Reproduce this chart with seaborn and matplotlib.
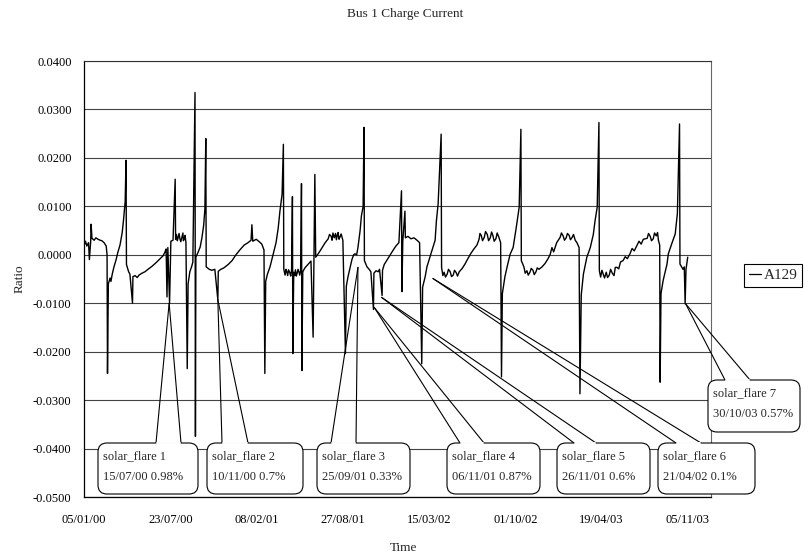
import numpy as np
import pandas as pd
import matplotlib
matplotlib.use("Agg")
import matplotlib.pyplot as plt
import seaborn as sns
from matplotlib.patches import FancyBboxPatch
from matplotlib.lines import Line2D
import matplotlib.dates as mdates

# ---------------- data ----------------
start_date = "2000-01-05"
day_offsets = [
    0, 3, 6, 10, 12, 15, 16, 18, 23, 27, 32, 37, 41, 46, 51, 53,
    54, 56, 60, 62, 65, 69, 74, 78, 83, 88, 91, 95, 97, 98,
    103, 106, 112, 113, 118, 123, 127, 134, 141, 148, 157, 167, 176, 183, 187, 190,
    192, 194, 198, 201, 206, 211, 212, 214, 216, 218, 220, 222, 224, 227, 229, 230, 232, 234, 236,
    239, 241, 245, 249, 252, 257, 258, 259, 264, 269, 273, 277, 280, 282, 283,
    290, 296, 303, 310, 311, 317, 324, 334, 343, 352, 361, 371, 380, 387, 389, 391, 399, 406, 412, 417,
    419, 421, 425, 431, 438, 445, 450, 454, 459, 462, 463,
    466, 468, 470, 472, 474, 477, 479, 481, 483, 484, 486, 488, 490, 492, 494, 496, 498, 500, 502,
    504, 505, 507, 512, 519, 526, 531, 535, 537, 545, 552, 559,
    566, 569, 573, 575, 577, 580, 583, 585, 587, 589, 591, 593, 596, 600,
    606, 608, 612, 617, 621, 625, 628, 632, 635, 640, 643, 647, 649, 650,
    656, 661, 665, 671, 672, 677, 682, 685, 691, 692, 696, 703, 710, 717, 723, 730,
    736, 737, 739, 744, 745, 751, 758, 765, 772, 778,
    783, 785, 791, 795, 802, 809, 814, 817, 821, 828, 829,
    832, 835, 838, 842, 845, 849, 852, 856, 859, 863, 866, 870, 877, 884, 890, 897, 904, 911,
    916, 918, 921, 924, 928, 931, 935, 938, 942, 945, 948, 951, 955, 958, 962, 966,
    968, 970, 976, 981, 988, 995, 1002, 1009, 1013, 1014,
    1020, 1023, 1027, 1030, 1034, 1037, 1041, 1044, 1048, 1051, 1055, 1062, 1069, 1076, 1081, 1085, 1089, 1096,
    1104, 1107, 1111, 1114, 1118, 1121, 1125, 1128, 1132, 1135, 1139, 1143, 1148,
    1150, 1153, 1158, 1166, 1174, 1181, 1185, 1190, 1194, 1195,
    1198, 1201, 1204, 1207, 1211, 1214, 1218, 1221, 1225, 1229, 1232, 1236, 1240, 1244, 1250, 1255, 1260, 1266,
    1271, 1276, 1282, 1287, 1292,
    1297, 1306, 1309, 1313, 1316, 1320, 1323, 1327, 1330, 1332, 1335,
    1336, 1338, 1343, 1352, 1355, 1363, 1371, 1376, 1381, 1382, 1389, 1392, 1394, 1396, 1400,
]
ratio_milli = [
    2.0, 2.8, 1.8, 2.5, -1.0, 2.8, 6.3, 3.4, 3.0, 3.5, 3.2, 3.0, 2.9, 2.5, 1.8, 0.0,
    -24.5, -6.0, -4.8, -5.5, -4.0, -2.5, -1.0, 0.5, 2.0, 4.5, 7.0, 11.0, 19.5, -2.0,
    -3.5, -4.0, -10.0, -4.5, -4.3, -4.7, -4.2, -3.8, -3.5, -3.0, -2.4, -1.6, -0.8, -0.2, 0.5, 1.2,
    -8.7, 1.5, -10.0, 2.8, 3.0, 15.6, 3.2, 4.2, 2.9, 3.6, 4.4, 3.3, 2.7, 3.8, 4.5, 2.9, 3.2, 4.0, 2.5,
    -23.5, -6.0, -3.5, -2.5, -1.5, 33.5, -37.5, -0.5, 0.5, 1.6, 3.5, 6.0, 9.5, 24.0, -2.5,
    -3.0, -3.2, -3.0, -9.3, -3.4, -3.0, -2.7, -2.0, -1.2, 0.0, 1.0, 2.0, 2.5, 3.0, 6.2, 2.8, 3.2, 2.7, 2.2, 1.0,
    -24.5, -5.5, -4.0, -2.5, 0.0, 2.5, 5.5, 9.0, 12.5, 22.8, -3.0,
    -4.2, -3.0, -3.5, -4.3, -3.1, -3.7, -4.4, -3.2, 12.0, -20.4, -3.6, -4.3, -3.1, -4.4, -3.8, -3.0, -3.5, -4.2, -3.3,
    14.7, -23.9, -3.5, -2.7, -2.0, -1.3, -17.0, 16.6, -0.5, 0.5, 1.5, 2.5,
    3.3, 4.2, 3.8, 3.0, 4.5, 3.5, 4.4, 3.1, 4.0, 4.6, 3.2, 3.6, 4.3, 3.0,
    -20.4, -6.5, -4.5, -2.5, -1.0, 0.0, 0.2, 0.0, 1.5, 5.0, 8.0, 10.0, 26.3, -1.2,
    -2.5, -3.0, -3.5, -11.3, -3.8, -3.3, -3.5, -3.0, -8.4, -3.2, -2.0, -1.0, 0.0, 1.0, 1.8, 2.5,
    13.2, -7.6, 2.8, 9.0, 3.5, 3.8, 3.3, 3.5, 3.0, 2.5,
    -22.5, -6.7, -4.5, -2.5, -0.5, 1.5, 3.0, 7.0, 10.5, 24.9, -2.6,
    -4.3, -3.6, -4.6, -4.0, -3.0, -3.5, -4.5, -4.2, -3.2, -3.7, -4.4, -3.5, -2.8, -1.8, -0.8, 0.3, 1.2, 2.0,
    3.2, 4.4, 4.0, 2.9, 3.6, 4.8, 4.2, 2.9, 3.5, 4.7, 4.0, 2.8, 3.3, 4.5, 3.6, 2.5,
    -25.2, -8.0, -4.5, -2.5, 0.1, 1.5, 5.5, 9.8, 25.9, -1.2,
    -2.5, -3.8, -3.3, -4.2, -3.6, -2.8, -3.2, -4.1, -3.5, -2.7, -3.0, -2.5, -1.8, -0.8, 0.1, 1.5, 0.6, 2.5,
    3.6, 4.5, 3.9, 3.0, 3.5, 4.4, 4.0, 3.1, 3.6, 4.2, 3.0, 2.5, 1.5,
    -28.7, -8.3, -4.0, -0.5, 1.5, 4.2, 7.0, 9.8, 27.3, -3.3,
    -4.6, -3.2, -4.0, -4.8, -3.6, -4.7, -4.2, -3.0, -3.8, -4.3, -2.6, -2.6, -2.9, -1.5, -1.2, -0.4, -0.8, 0.2,
    1.3, 0.8, 1.9, 2.8, 2.2,
    3.2, 3.4, 4.4, 3.8, 2.9, 3.3, 4.5, 3.9, 4.6, 3.0, 2.0,
    -26.3, -8.0, -5.3, -1.9, 0.2, 2.3, 4.3, 8.5, 27.0, -1.9, -3.0, -2.5, -10.1, -3.0, -0.5,
]
series_name = "A129"

xtick_labels = ["05/01/00", "23/07/00", "08/02/01", "27/08/01", "15/03/02", "01/10/02", "19/04/03", "05/11/03"]
ytick_values = [0.04, 0.03, 0.02, 0.01, 0.0, -0.01, -0.02, -0.03, -0.04, -0.05]
ytick_labels = ["0.0400", "0.0300", "0.0200", "0.0100", "0.0000", "-0.0100", "-0.0200", "-0.0300", "-0.0400", "-0.0500"]

flare_names = ["solar_flare 1", "solar_flare 2", "solar_flare 3", "solar_flare 4", "solar_flare 5", "solar_flare 6", "solar_flare 7"]
flare_dates = ["15/07/00", "10/11/00", "25/09/01", "06/11/01", "26/11/01", "21/04/02", "30/10/03"]
flare_pcts = ["0.98%", "0.7%", "0.33%", "0.87%", "0.6%", "0.1%", "0.57%"]
pointer_days = [197, 310, 635, 673, 690, 809, 1395]
pointer_values = [-0.0100, -0.0093, -0.0026, -0.0109, -0.0088, -0.0049, -0.0101]

assert len(day_offsets) == len(ratio_milli)

# ---------------- layout / style ----------------
W, H = 808, 557
sns.set_theme(style="white")
plt.rcParams["font.family"] = ["Liberation Serif", "DejaVu Serif"]

t0 = pd.Timestamp(start_date)
df = pd.DataFrame({
    "Time": t0 + pd.to_timedelta(day_offsets, unit="D"),
    "Ratio": np.array(ratio_milli) / 1000.0,
    "Series": series_name,
})

fig = plt.figure(figsize=(W / 100, H / 100), dpi=100)
fig.patch.set_facecolor("white")
ax = fig.add_axes([84 / W, 1 - 497 / H, (711 - 84) / W, (497 - 61) / H])
sns.lineplot(data=df, x="Time", y="Ratio", hue="Series", palette=["black"], linewidth=1.0,
             ax=ax, legend=False, zorder=3)

ax.set_xlim(mdates.date2num(t0 - pd.Timedelta(days=0.5)), mdates.date2num(t0 + pd.Timedelta(days=1454)))
ax.set_ylim(-0.05, 0.04)
ax.set_yticks(ytick_values)
ax.set_yticklabels(ytick_labels)
ax.set_xticks(mdates.date2num(pd.to_datetime(xtick_labels, format="%d/%m/%y")))
ax.set_xticklabels(xtick_labels)
ax.tick_params(axis="y", length=0, pad=9, labelsize=9, colors="black")
ax.tick_params(axis="x", length=0, pad=12.5, labelsize=9, colors="black")
ax.set_xlabel("")
ax.set_ylabel("")
ax.grid(axis="y", color="#444444", linewidth=0.8)
ax.grid(axis="x", visible=False)
ax.set_facecolor("white")
for side in ["left", "bottom"]:
    ax.spines[side].set_color("black")
    ax.spines[side].set_linewidth(0.9)
ax.spines["top"].set_color("#333333")
ax.spines["top"].set_linewidth(0.8)
ax.spines["top"].set_linestyle((0, (1, 1)))
ax.spines["right"].set_color("#666666")
ax.spines["right"].set_linewidth(0.8)
ax.spines["right"].set_linestyle((0, (1, 1)))

fig.text(405 / W, 1 - 14 / H, "Bus 1 Charge Current", ha="center", va="center", fontsize=9.5)
fig.text(403 / W, 1 - 548 / H, "Time", ha="center", va="center", fontsize=9.5)
fig.text(20 / W, 1 - 279 / H, "Ratio", ha="center", va="center", rotation=90, fontsize=9.5)

leg = ax.legend(handles=[Line2D([0], [0], color="black", lw=0.9)], labels=[series_name],
                loc="upper left", bbox_to_anchor=(744 / W, 1 - 264 / H), bbox_transform=fig.transFigure,
                fancybox=False, edgecolor="black", framealpha=1, borderpad=0.3, handlelength=0.8,
                handletextpad=0.2, fontsize=11, borderaxespad=0)
leg.get_frame().set_linewidth(0.8)

# ---------------- callouts ----------------
boxes = [(98, 198, 443, 494), (207, 303, 443, 494), (317, 410, 443, 494), (447, 540, 443, 494),
         (557, 650, 443, 494), (658, 755, 443, 494), (708, 800, 380, 432)]
bases = [(156, 181), (222, 248), (331, 356), (460, 484), (574, 596), (676, 701), (725, 750)]

fig.canvas.draw()
inv = fig.dpi_scale_trans.inverted()
for i in range(len(flare_names)):
    x0, x1, yt, yb = boxes[i]
    b0, b1 = bases[i]
    tip_disp = ax.transData.transform((mdates.date2num(t0 + pd.Timedelta(days=pointer_days[i])), pointer_values[i]))
    tx, ty = inv.transform(tip_disp)
    for b in (b0, b1):
        fig.add_artist(Line2D([b / 100, tx], [(H - yt) / 100, ty], transform=fig.dpi_scale_trans,
                              color="black", lw=0.8, zorder=5))
    box = FancyBboxPatch((x0 / 100, (H - yb) / 100), (x1 - x0) / 100, (yb - yt) / 100,
                         boxstyle="round,pad=0,rounding_size=0.09", transform=fig.dpi_scale_trans,
                         facecolor="white", edgecolor="black", lw=0.8, zorder=6)
    fig.add_artist(box)
    fig.add_artist(Line2D([(b0 + 1) / 100, (b1 - 1) / 100], [(H - yt) / 100] * 2, transform=fig.dpi_scale_trans,
                          color="white", lw=1.4, zorder=7))
    fig.text((x0 + 5) / W, 1 - (yt + 13) / H, flare_names[i], ha="left", va="center", fontsize=9, zorder=8)
    fig.text((x0 + 5) / W, 1 - (yt + 34) / H, f"{flare_dates[i]} {flare_pcts[i]}", ha="left", va="center",
             fontsize=9, zorder=8)

fig.savefig("out.png", dpi=100, facecolor="white")
